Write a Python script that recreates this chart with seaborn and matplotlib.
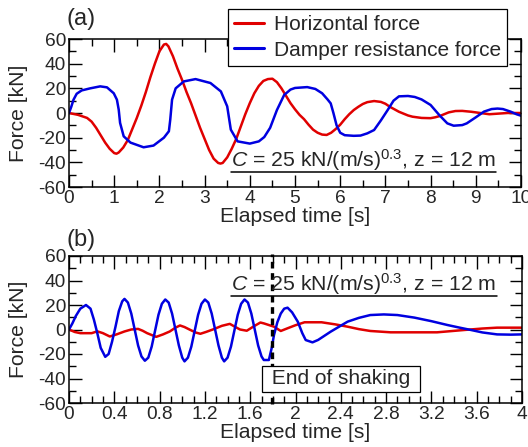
import matplotlib
matplotlib.use("Agg")
import matplotlib.pyplot as plt
from matplotlib.ticker import MultipleLocator, FuncFormatter
from matplotlib.lines import Line2D
import seaborn as sns

# ---- data ----
# (a) horizontal force
t_red_a = [0.0, 0.2, 0.4, 0.5, 0.6, 0.7, 0.8, 0.9, 1.0, 1.05, 1.1, 1.2, 1.3, 1.4, 1.5,
           1.6, 1.7, 1.8, 1.9, 2.0, 2.1, 2.15, 2.2, 2.3, 2.4, 2.5, 2.6, 2.7, 2.8, 2.9,
           3.0, 3.1, 3.2, 3.3, 3.35, 3.4, 3.5, 3.6, 3.7, 3.8, 3.9, 4.0, 4.1, 4.2, 4.3,
           4.4, 4.5, 4.6, 4.7, 4.8, 4.9, 5.0, 5.1, 5.2, 5.3, 5.4, 5.5, 5.6, 5.7, 5.8,
           5.9, 6.0, 6.1, 6.2, 6.3, 6.4, 6.5, 6.6, 6.75, 6.9, 7.0, 7.1, 7.2, 7.3, 7.4,
           7.5, 7.6, 7.8, 8.0, 8.1, 8.2, 8.3, 8.4, 8.55, 8.7, 8.9, 9.1, 9.3, 9.5, 9.7, 10.0]
f_red_a = [0, -1.5, -4, -7, -12, -18, -24, -29, -32.5, -33, -32, -28, -22, -13, -4,
           6, 17, 29, 40, 50, 55.5, 56, 54, 46, 36, 27, 17, 8, -2, -12,
           -21, -30, -37, -40.5, -41, -40.5, -36, -29, -21, -11, -1, 8, 16, 22, 26,
           27.5, 27.8, 25, 20, 14, 8, 3, -1.5, -5, -9.5, -13.5, -16, -17.5, -17.8, -16,
           -13, -9.5, -5, -1, 2.4, 5, 7.3, 8.8, 9.7, 9, 7.5, 5, 3, 1, -0.5,
           -2, -3, -4, -4.2, -3.5, -2.5, -1, 0.5, 1.6, 1.7, 1, 0, -1, -0.5, 0, 0]

# (a) damper resistance force
t_blue_a = [0.0, 0.05, 0.1, 0.17, 0.28, 0.47, 0.69, 0.84, 0.99, 1.06, 1.1, 1.13, 1.21, 1.36,
            1.65, 1.87, 2.1, 2.21, 2.24, 2.28, 2.36, 2.54, 2.8, 3.13, 3.36, 3.5, 3.58,
            3.73, 4.0, 4.2, 4.32, 4.45, 4.6, 4.76, 4.9, 5.0, 5.27, 5.45, 5.6, 5.72, 5.79,
            5.85, 5.92, 6.0, 6.1, 6.3, 6.45, 6.6, 6.75, 6.9, 7.05, 7.18, 7.3, 7.5, 7.65,
            7.8, 8.0, 8.2, 8.37, 8.51, 8.7, 8.8, 9.0, 9.18, 9.35, 9.48, 9.6, 9.77, 9.9, 10.0]
f_blue_a = [0, 5, 10.8, 15.6, 18.3, 20, 21.6, 20.8, 16, 10.8, 2.7, -8, -18.9, -24,
            -27.8, -26.4, -20, -14.8, -5.4, 10.8, 20, 25.6, 27.5, 24.3, 17.5, 5.4, -13.5,
            -23, -24.8, -23, -19.5, -12, 2.4, 14.6, 19, 20.3, 21, 19.5, 16, 11, 7.8,
            0, -10, -16, -18, -18.5, -18.3, -16.5, -13.8, -6, 2.4, 10, 13.5, 13.8, 13,
            11, 6.5, -2, -8.4, -10.3, -9.8, -8.4, -3.5, 1.1, 3.2, 3.6, 3.2, 1.1, -1, -2.2]

# (b) horizontal force
t_red_b = [0, 0.05, 0.1, 0.2, 0.25, 0.3, 0.36, 0.42, 0.49, 0.55, 0.61, 0.65, 0.69, 0.77,
           0.83, 0.89, 0.94, 0.98, 1.02, 1.07, 1.12, 1.16, 1.21, 1.27, 1.35, 1.42, 1.47,
           1.51, 1.57, 1.63, 1.69, 1.72, 1.77, 1.81, 1.87, 1.93, 2.0, 2.08, 2.23, 2.35,
           2.46, 2.56, 2.66, 2.84, 3.25, 3.49, 3.65, 3.78, 4.0]
f_red_b = [0, -2, -3, -3, -1.5, -3, -5.7, -4, -1.6, 0, 0.5, -1, -3, -6,
           -4, -1.6, 1.5, 3.3, 2, -0.3, -2.5, -3.5, -2, 0, 3, 4.6, 2,
           0, -1, 2.5, 5.7, 5, 3.5, 2.3, -1.2, 1, 3.5, 5.9, 5.9, 4.2,
           2.3, 0.3, -1.2, -2.3, -2.3, -0.4, 0.8, 1.5, 1.5]

# (b) damper resistance force
t_blue_b = [0.0, 0.03, 0.06, 0.1, 0.15, 0.19, 0.22, 0.25, 0.28, 0.32, 0.35, 0.38, 0.41,
            0.44, 0.47, 0.49, 0.52, 0.55, 0.58, 0.61, 0.64, 0.67, 0.70, 0.73, 0.76, 0.79,
            0.82, 0.85, 0.88, 0.91, 0.94, 0.97, 1.00, 1.02, 1.05, 1.08, 1.11, 1.14, 1.17,
            1.20, 1.23, 1.26, 1.29, 1.32, 1.35, 1.37, 1.40, 1.43, 1.46, 1.49, 1.52, 1.55,
            1.58, 1.61, 1.64, 1.67, 1.70, 1.72, 1.765, 1.79, 1.81, 1.84, 1.87, 1.9, 1.93,
            1.97, 2.02, 2.06, 2.09, 2.15, 2.2, 2.31, 2.46, 2.56, 2.66, 2.78, 2.9, 3.05,
            3.2, 3.34, 3.45, 3.55, 3.65, 3.78, 3.9, 4.0]
f_blue_b = [0, 5, 11, 17, 20, 17, 8, -3, -15, -22.3, -20, -10, 2,
            15, 23, 25, 22, 13, 0, -13, -22, -25.5, -23, -14, -1, 12,
            21, 24.5, 22, 13, 0, -13, -23, -26, -23, -14, -1, 12, 21,
            24.5, 22, 13, 0, -13, -23, -26, -23, -14, -1, 12, 21, 24.5,
            22, 13, 0, -13, -22, -24.9, -24.9, -15, -4.5, 6, 13, 17, 17.8,
            14, 6.4, -3, -8.6, -10.5, -8.5, -1.8, 6.4, 9.5, 11.8, 12.3, 11.8, 9.7,
            6.8, 3.7, 1.5, -0.4, -2.4, -4, -4.2, -4]

end_of_shaking = 1.79
series_labels = ["Horizontal force", "Damper resistance force"]
note = r"$\mathit{C}$ = 25 kN/(m/s)$^{0.3}$, z = 12 m"

RED = "#e00000"
BLUE = "#0000e0"
LW = 1.8

sns.set_style("ticks")
plt.rcParams["font.family"] = ["Liberation Sans", "DejaVu Sans"]
plt.rcParams["mathtext.fontset"] = "custom"
plt.rcParams["mathtext.rm"] = "Liberation Sans"
plt.rcParams["mathtext.it"] = "Liberation Sans:italic"
plt.rcParams["axes.unicode_minus"] = False

fig = plt.figure(figsize=(5.28, 4.47), dpi=100)
ax_a = fig.add_axes([69 / 528, 1 - 187 / 447, 452 / 528, 148 / 447])
ax_b = fig.add_axes([69 / 528, 1 - 403 / 447, 453 / 528, 147 / 447])


def style_axes(ax, xmax, xmajor, xminor):
    ax.set_xlim(0, xmax)
    ax.set_ylim(-60, 60)
    ax.xaxis.set_major_locator(MultipleLocator(xmajor))
    ax.xaxis.set_minor_locator(MultipleLocator(xminor))
    ax.xaxis.set_major_formatter(FuncFormatter(lambda v, p: f"{v:g}"))
    ax.yaxis.set_major_locator(MultipleLocator(20))
    ax.yaxis.set_minor_locator(MultipleLocator(10))
    ax.tick_params(which="both", direction="in", top=True, right=True,
                   color="black", width=1.0)
    ax.tick_params(which="major", length=9, labelsize=13.8, pad=2)
    ax.tick_params(which="minor", length=5)
    for s in ax.spines.values():
        s.set_linewidth(1.1)
        s.set_color("black")
    ax.set_xlabel("Elapsed time [s]", fontsize=15.2)
    ax.set_ylabel("Force [kN]", fontsize=15.2)
    ax.yaxis.set_label_coords(-0.09, 0.5)
    ax.xaxis.set_label_coords(0.5, -0.135)


# (a)
sns.lineplot(x=t_red_a, y=f_red_a, ax=ax_a, color=RED, lw=LW, sort=False,
             estimator=None, legend=False)
sns.lineplot(x=t_blue_a, y=f_blue_a, ax=ax_a, color=BLUE, lw=LW, sort=False,
             estimator=None, legend=False)
style_axes(ax_a, 10, 1, 0.5)

# (b)
sns.lineplot(x=t_red_b, y=f_red_b, ax=ax_b, color=RED, lw=LW, sort=False,
             estimator=None, legend=False)
sns.lineplot(x=t_blue_b, y=f_blue_b, ax=ax_b, color=BLUE, lw=LW, sort=False,
             estimator=None, legend=False)
ax_b.axvline(end_of_shaking, ymin=-0.01, ymax=1.015, color="black", lw=2.4,
             ls=(0, (2.0, 1.4)), zorder=5, clip_on=False)
style_axes(ax_b, 4, 0.4, 0.1)
ax_b.text(2.40, -40.4, " End of shaking ", fontsize=15, ha="center", va="center",
          bbox=dict(boxstyle="square,pad=0.18", fc="white", ec="black", lw=0.9),
          zorder=6)

# annotations with underline
notes = []
for ax, yb in [(ax_a, 0.135), (ax_b, 0.762)]:
    notes.append(ax.text(0.358, yb, note, transform=ax.transAxes, fontsize=15.3,
                         ha="left", va="baseline", zorder=6))

fig.text(66 / 528, 1 - 19 / 447, "(a)", fontsize=17, va="center", ha="left")
fig.text(66 / 528, 1 - 240 / 447, "(b)", fontsize=17, va="center", ha="left")

handles = [Line2D([], [], color=RED, lw=2.2), Line2D([], [], color=BLUE, lw=2.2)]
leg = fig.legend(handles, series_labels, loc="upper right",
                 bbox_to_anchor=(507 / 528, 1 - 9 / 447), fontsize=15,
                 frameon=True, fancybox=False, edgecolor="black", framealpha=1,
                 handlelength=1.45, handletextpad=0.45, borderpad=0.3,
                 labelspacing=0.3, borderaxespad=0)
leg.get_frame().set_linewidth(0.9)

fig.canvas.draw()
inv = fig.transFigure.inverted()
for txt in notes:
    bb = txt.get_window_extent()
    (x0, y0), (x1, _) = inv.transform([[bb.x0, bb.y0], [bb.x1, bb.y1]])
    fig.add_artist(Line2D([x0, x1], [y0 + 0.002, y0 + 0.002], color="black", lw=1.1,
                          transform=fig.transFigure))

fig.savefig("out.png", dpi=100)
